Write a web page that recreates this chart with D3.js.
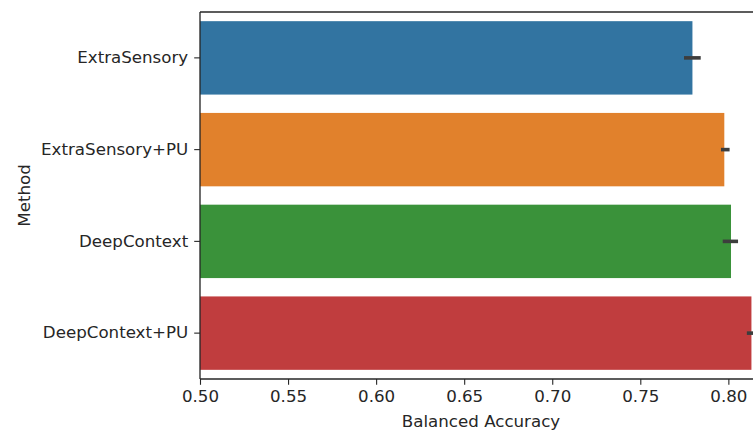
<!DOCTYPE html>
<html>
<head>
<meta charset="utf-8">
<script src="https://cdn.jsdelivr.net/npm/d3@7"></script>
<style>
  html, body { margin: 0; padding: 0; background: #fff; overflow: hidden; }
  svg { display: block; }
  text { font-family: "DejaVu Sans", sans-serif; fill: #262626; }
</style>
</head>
<body>
<svg id="chart" width="753" height="435"></svg>
<script>
// Mean balanced accuracy per method, with confidence interval bounds
const methods = ["ExtraSensory", "ExtraSensory+PU", "DeepContext", "DeepContext+PU"];
const accuracy = [0.7796, 0.7977, 0.8015, 0.8131];
const ciLow = [0.7748, 0.7958, 0.7968, 0.8105];
const ciHigh = [0.7843, 0.8007, 0.8055, 0.8157];
const colors = ["#3274a1", "#e1812c", "#3a923a", "#c03d3e"];
const xTicks = [0.50, 0.55, 0.60, 0.65, 0.70, 0.75, 0.80];

const rows = methods.map((m, i) => ({
  method: m, value: accuracy[i], lo: ciLow[i], hi: ciHigh[i], color: colors[i]
}));

const svg = d3.select("#chart");
const plotLeft = 200, plotRight = 762, plotTop = 12, plotBottom = 379;
const fontSize = 16.67;

const x = d3.scaleLinear().domain([0.5, 0.8191]).range([plotLeft, plotRight]);
const y = d3.scaleBand().domain(methods).range([plotTop, plotBottom]).paddingInner(0.2).paddingOuter(0.1);

// Bars
svg.append("g").selectAll("rect").data(rows).join("rect")
  .attr("x", x(0.5))
  .attr("y", d => y(d.method))
  .attr("width", d => x(d.value) - x(0.5))
  .attr("height", y.bandwidth())
  .attr("fill", d => d.color);

// Confidence interval lines
svg.append("g").selectAll("line").data(rows).join("line")
  .attr("x1", d => x(d.lo))
  .attr("x2", d => x(d.hi))
  .attr("y1", d => y(d.method) + y.bandwidth() / 2)
  .attr("y2", d => y(d.method) + y.bandwidth() / 2)
  .attr("stroke", "#3d3d3d")
  .attr("stroke-width", 3.6);

// Spines (left, top)
const spine = svg.append("g").attr("stroke", "#262626").attr("stroke-width", 1.33).attr("fill", "none");
spine.append("line").attr("x1", plotLeft).attr("x2", plotLeft).attr("y1", plotTop).attr("y2", plotBottom);
spine.append("line").attr("x1", plotLeft).attr("x2", plotRight + 2).attr("y1", plotTop).attr("y2", plotTop);

// X axis
const xAxis = svg.append("g")
  .attr("transform", `translate(0,${plotBottom})`)
  .call(d3.axisBottom(x).tickValues(xTicks).tickFormat(d3.format(".2f")).tickSize(5.8).tickPadding(5.5));
xAxis.select(".domain").attr("stroke", "#262626").attr("stroke-width", 1.33).attr("d", `M${plotLeft},0H${plotRight + 2}`);
xAxis.selectAll(".tick line").attr("stroke", "#262626").attr("stroke-width", 1.1);
xAxis.selectAll(".tick text").attr("font-size", fontSize).attr("font-family", "DejaVu Sans").attr("fill", "#262626");

// Y axis
const yAxis = svg.append("g")
  .attr("transform", `translate(${plotLeft},0)`)
  .call(d3.axisLeft(y).tickSize(5.8).tickPadding(6));
yAxis.select(".domain").remove();
yAxis.selectAll(".tick line").attr("stroke", "#262626").attr("stroke-width", 1.1);
yAxis.selectAll(".tick text").attr("font-size", fontSize).attr("font-family", "DejaVu Sans").attr("fill", "#262626");

// Axis titles
svg.append("text")
  .attr("x", (plotLeft + plotRight) / 2)
  .attr("y", 427)
  .attr("text-anchor", "middle")
  .attr("font-size", fontSize)
  .text("Balanced Accuracy");

svg.append("text")
  .attr("transform", `translate(30,${(plotTop + plotBottom) / 2}) rotate(-90)`)
  .attr("text-anchor", "middle")
  .attr("font-size", fontSize)
  .text("Method");
</script>
</body>
</html>
